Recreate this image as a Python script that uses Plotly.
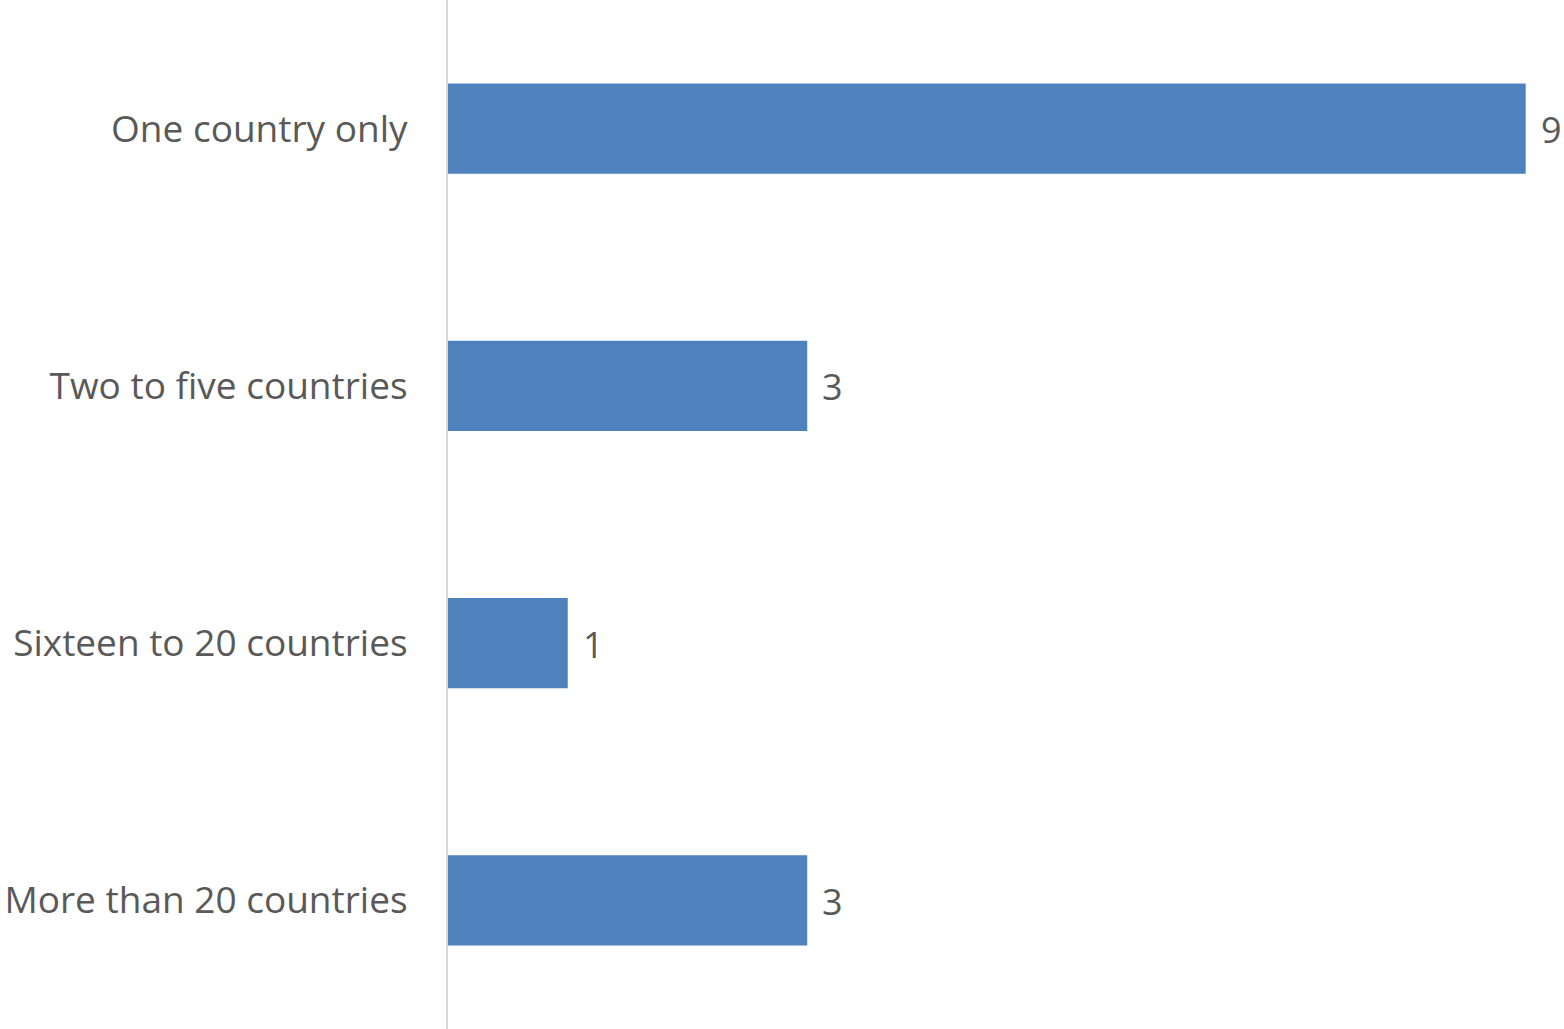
import plotly.graph_objects as go

categories = ["One country only", "Two to five countries", "Sixteen to 20 countries", "More than 20 countries"]
values = [9, 3, 1, 3]

FONT = "Open Sans"
TXT = "#595959"

fig = go.Figure(go.Bar(
    y=categories, x=values, orientation="h",
    marker=dict(color="#4F81BD", line=dict(width=0)),
    width=0.35,
    hoverinfo="skip",
))

for c, v in zip(categories, values):
    fig.add_annotation(x=v, y=c, text=str(v), showarrow=False, xanchor="left",
                       xshift=13, yshift=-1, font=dict(family=FONT, size=36, color=TXT))

fig.update_layout(
    width=1564, height=1029,
    margin=dict(l=448, r=0, t=0, b=0),
    paper_bgcolor="white", plot_bgcolor="white",
    showlegend=False,
    xaxis=dict(range=[0, 9.32], showgrid=False, zeroline=False, showticklabels=False,
               showline=False, fixedrange=True),
    yaxis=dict(categoryorder="array", categoryarray=categories, autorange="reversed",
               showgrid=False, zeroline=False, showline=True, linecolor="#D9D9D9", linewidth=2,
               ticks="", ticklabelstandoff=31,
               tickfont=dict(family=FONT, size=37, color=TXT)),
)

fig.write_html("out.html")
